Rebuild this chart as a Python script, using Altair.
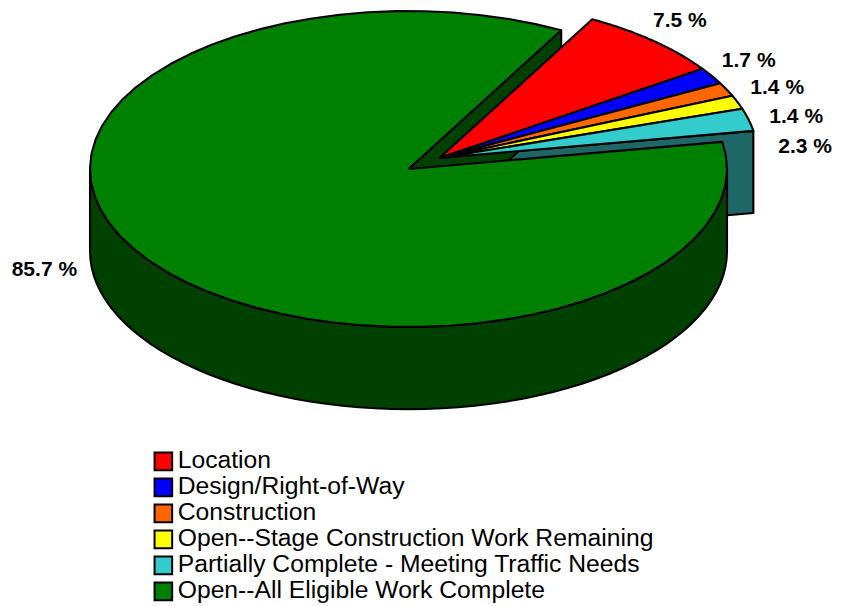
import altair as alt
import pandas as pd

# ---- data -------------------------------------------------------------
categories = [
    "Location",
    "Design/Right-of-Way",
    "Construction",
    "Open--Stage Construction Work Remaining",
    "Partially Complete - Meeting Traffic Needs",
    "Open--All Eligible Work Complete",
]
shares = [7.5, 1.7, 1.4, 1.4, 2.3, 85.7]
exploded = [1, 1, 1, 1, 1, 0]

# ---- styles -----------------------------------------------------------
top_colors = ["#FF0000", "#0000FF", "#FF6600", "#FFFF00", "#33CCCC", "#008000"]
side_colors = ["#800000", "#000080", "#803300", "#808000", "#1F6666", "#004000"]

START = 0.50      # start angle (rad, clockwise from 12 o'clock)
EXPLODE = 0.12    # explode distance (fraction of radius)
DEPTH = 0.52      # slab thickness in y units
N = 60            # points per arc
SW = 2.1
FONT = "Liberation Sans"
LABEL_GAP = 0.168   # minimum angular gap between neighbouring labels (rad)
LABEL_SHIFT = -0.02 # small angular nudge of the exploded-group labels (rad)

W, H = 830, 598

df = pd.DataFrame({"cat": categories, "pct": shares, "ex": exploded,
                   "k": list(range(len(categories)))})

xs = alt.Scale(domain=[-1.2575, 1.3485], nice=False, zero=False)
ys = alt.Scale(domain=[1.019 - H / 158.0, 1.019], nice=False, zero=False)

base = (
    alt.Chart(df)
    .transform_window(cum="sum(pct)", sort=[alt.SortField("k")], frame=[None, 0])
    .transform_calculate(t0=f"{START} + 2*PI*(datum.cum - datum.pct)/100")
    .transform_calculate(t1=f"{START} + 2*PI*datum.cum/100")
    .transform_calculate(mid="(datum.t0 + datum.t1)/2")
    .transform_joinaggregate(gmin="min(t0)", gmax="max(t1)", groupby=["ex"])
    .transform_calculate(ox=f"datum.ex*{EXPLODE}*sin((datum.gmin+datum.gmax)/2)")
    .transform_calculate(oy=f"datum.ex*{EXPLODE}*cos((datum.gmin+datum.gmax)/2)")
)


def poly(ch, fill):
    return ch.mark_line(stroke="black", strokeWidth=SW, strokeJoin="round",
                        filled=True).encode(
        x=alt.X("x:Q", scale=xs, axis=None),
        y=alt.Y("y:Q", scale=ys, axis=None),
        order=alt.Order("i:Q"),
        detail=alt.Detail("cat:N"),
        fill=fill,
    )


dark_fill = alt.Fill("cat:N", scale=alt.Scale(domain=categories, range=side_colors), legend=None)

# radial cut faces that face the viewer
faces = (
    base.transform_filter("datum.t1 == datum.gmax && sin(datum.t1) > 0")
    .transform_calculate(pts="sequence(0, 5)")
    .transform_flatten(["pts"], as_=["i"])
    .transform_calculate(r="(datum.i == 1 || datum.i == 2) ? 1 : 0")
    .transform_calculate(x="datum.ox + datum.r*sin(datum.t1)")
    .transform_calculate(
        y=f"datum.oy + datum.r*cos(datum.t1) - ((datum.i == 2 || datum.i == 3) ? {DEPTH} : 0)")
)
faces_layer = poly(faces, dark_fill)

# outer side band, front half only
band = (
    base.transform_calculate(lo="max(datum.t0, PI/2)")
    .transform_calculate(hi="min(datum.t1, 3*PI/2)")
    .transform_filter("datum.lo < datum.hi")
    .transform_calculate(pts=f"sequence(0, {2*N+3})")
    .transform_flatten(["pts"], as_=["i"])
    .transform_calculate(seg=f"datum.i <= {N} ? 0 : (datum.i <= {2*N+1} ? 1 : 2)")
    .transform_calculate(
        ang=f"datum.seg == 0 ? datum.lo + (datum.hi - datum.lo)*datum.i/{N} : "
            f"(datum.seg == 1 ? datum.hi - (datum.hi - datum.lo)*(datum.i - {N+1})/{N} : datum.lo)")
    .transform_calculate(x="datum.ox + sin(datum.ang)")
    .transform_calculate(y=f"datum.oy + cos(datum.ang) - (datum.seg == 1 ? {DEPTH} : 0)")
)
band_layer = poly(band, dark_fill)

# top faces
top = (
    base.transform_calculate(pts=f"sequence(0, {N+3})")
    .transform_flatten(["pts"], as_=["i"])
    .transform_calculate(c=f"datum.i == 0 || datum.i == {N+2}")
    .transform_calculate(
        ang=f"datum.t0 + (datum.t1 - datum.t0)*clamp(datum.i - 1, 0, {N})/{N}")
    .transform_calculate(x="datum.c ? datum.ox : datum.ox + sin(datum.ang)")
    .transform_calculate(y="datum.c ? datum.oy : datum.oy + cos(datum.ang)")
)
top_scale = alt.Scale(domain=categories, range=top_colors)
top_main = poly(top.transform_filter("datum.ex == 0"),
                alt.Fill("cat:N", scale=top_scale, legend=None))
top_expl = poly(
    top.transform_filter("datum.ex == 1"),
    alt.Fill(
        "cat:N", scale=top_scale,
        legend=alt.Legend(
            title=None, orient="none", legendX=143, legendY=441,
            direction="vertical", symbolType="square", symbolSize=310,
            symbolStrokeColor="black", symbolStrokeWidth=2, symbolOpacity=1,
            labelFontSize=24.7, labelFont=FONT, labelColor="black",
            labelLimit=0, rowPadding=-4, labelOffset=2,
        ),
    ),
)

# labels
lab = base.transform_calculate(label="format(datum.pct, '.1f') + ' %'")
text_kw = dict(baseline="middle", font=FONT, fontWeight="bold", fontSize=21, color="black")

# exploded group: labels pushed apart so they keep a minimum angular gap
lab_right = (
    lab.transform_filter("datum.ex == 1")
    .transform_calculate(q=f"datum.mid - {LABEL_GAP}*datum.k")
    .transform_window(qmax="max(q)", sort=[alt.SortField("k")], frame=[None, 0],
                      groupby=["ex"])
    .transform_calculate(la=f"datum.qmax + {LABEL_GAP}*datum.k + {LABEL_SHIFT}")
    .transform_calculate(x="datum.ox + 1.15*sin(datum.la)")
    .transform_calculate(y="datum.oy + 1.15*cos(datum.la)")
    .mark_text(align="center", **text_kw)
    .encode(x=alt.X("x:Q", scale=xs, axis=None), y=alt.Y("y:Q", scale=ys, axis=None),
            text="label:N")
)
lab_left = (
    lab.transform_filter("datum.ex == 0")
    .transform_calculate(x="datum.ox + 1.28*sin(datum.mid)")
    .transform_calculate(y="datum.oy + 1.1*cos(datum.mid)")
    .mark_text(align="right", **text_kw)
    .encode(x=alt.X("x:Q", scale=xs, axis=None), y=alt.Y("y:Q", scale=ys, axis=None),
            text="label:N")
)

chart = (
    alt.layer(faces_layer, band_layer, top_main, top_expl, lab_right, lab_left)
    .resolve_scale(fill="independent")
    .properties(width=W, height=H, padding=0, autosize="none")
    .configure_view(stroke=None)
)

chart.save("out.html", embed_options={"renderer": "svg", "actions": False})
